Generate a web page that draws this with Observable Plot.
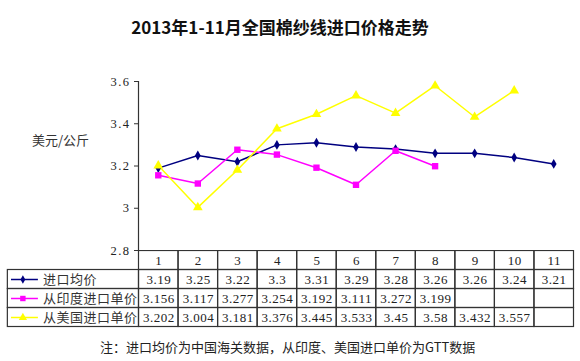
<!DOCTYPE html>
<html><head><meta charset="utf-8">
<script src="https://cdn.jsdelivr.net/npm/d3@7"></script>
<script src="https://cdn.jsdelivr.net/npm/@observablehq/plot@0.6"></script>
<style>
body{margin:0;background:#fff;}
#wrap{position:relative;width:580px;height:361px;overflow:hidden;font-family:"Noto Sans CJK SC",sans-serif;color:#222;}
#title{position:absolute;left:0;width:560px;top:15px;line-height:24px;text-align:center;font-size:17px;font-weight:bold;color:#111;}
#ylabel{position:absolute;left:32px;top:130px;line-height:20px;font-size:13px;color:#333;}
#note{position:absolute;left:100px;top:337px;line-height:20px;font-size:13px;color:#222;}
#chart{position:absolute;left:0;top:50px;}
#table{position:absolute;left:0;top:250px;}
svg{display:block;}
</style>
</head><body>
<div id="wrap">
  <div id="title">2013年1-11月全国棉纱线进口价格走势</div>
  <div id="ylabel">美元/公斤</div>
  <div id="chart"></div>
  <div id="table"></div>
  <div id="note">注：进口均价为中国海关数据，从印度、美国进口单价为GTT数据</div>
</div>
<script>
// ---- data ----
const months = [1, 2, 3, 4, 5, 6, 7, 8, 9, 10, 11];
const avgPrice = [3.19, 3.25, 3.22, 3.3, 3.31, 3.29, 3.28, 3.26, 3.26, 3.24, 3.21];
const indiaPrice = [3.156, 3.117, 3.277, 3.254, 3.192, 3.111, 3.272, 3.199];
const usaPrice = [3.202, 3.004, 3.181, 3.376, 3.445, 3.533, 3.45, 3.58, 3.432, 3.557];
const seriesNames = ["进口均价", "从印度进口单价", "从美国进口单价"];
const seriesColors = ["#000080", "#FF00FF", "#FFFF00"];
const seriesSymbols = ["diamond", "square", "triangle"];
const yTicks = [2.8, 3, 3.2, 3.4, 3.6];

// ---- derived tables ----
const seriesValues = [avgPrice, indiaPrice, usaPrice];
const points = seriesValues.flatMap((vals, i) =>
  vals.map((v, j) => ({month: months[j], value: v, series: seriesNames[i]})));

const symbolSize = {"进口均价": 3, "从印度进口单价": 3.6, "从美国进口单价": 3.6};

const colorOpt = {domain: seriesNames, range: seriesColors};
const symbolOpt = {domain: seriesNames, range: seriesSymbols};

const chart = Plot.plot({
  width: 580, height: 201,
  marginTop: 31, marginBottom: 1, marginLeft: 138, marginRight: 7,
  x: {domain: [0.5, 11.5], axis: null},
  y: {domain: [2.8, 3.6], axis: null},
  color: colorOpt,
  symbol: symbolOpt,
  style: {fontFamily: "Liberation Serif", fontSize: "12.5px", letterSpacing: "1.5px", background: "transparent", overflow: "visible", color: "#222"},
  marks: [
    Plot.axisY({ticks: yTicks, tickSize: 4, tickPadding: 4, stroke: "#333", label: null,
      tickFormat: d => String(+d.toFixed(1))}),
    Plot.ruleX([0.5], {stroke: "#333", strokeWidth: 1.2}),
    Plot.line(points, {x: "month", y: "value", z: "series", stroke: "series", strokeWidth: 1.5}),
    ...seriesNames.map(name => Plot.dot(points.filter(p => p.series === name),
      {x: "month", y: "value", symbol: "series", fill: "series", r: symbolSize[name]}))
  ]
});
document.getElementById("chart").append(chart);

// ---- table ----
const LABEL_LEFT = 0.5 - 131 / 39.5; // label column left edge in column units
const rowOf = {"进口均价": 1, "从印度进口单价": 2, "从美国进口单价": 3};
const cells = [];
for (let r = 0; r < 4; r++) {
  for (const m of months) cells.push({x1: m - 0.5, x2: m + 0.5, y1: r, y2: r + 1});
  if (r > 0) cells.push({x1: LABEL_LEFT, x2: 0.5, y1: r, y2: r + 1});
}
const valueCells = points.map(p => ({month: p.month, yc: rowOf[p.series] + 0.5, label: String(p.value)}));
const legendRows = seriesNames.map(name => ({series: name, yc: rowOf[name] + 0.5}));

const table = Plot.plot({
  width: 580, height: 78, margin: 0,
  x: {domain: [0.5, 11.5], range: [138.5, 573.5], axis: null},
  y: {domain: [0, 4], range: [0.5, 76.5], axis: null},
  color: colorOpt,
  symbol: symbolOpt,
  style: {fontFamily: "Liberation Serif", fontSize: "13px", letterSpacing: "0.5px", background: "transparent", color: "#222"},
  marks: [
    Plot.rect(cells, {x1: "x1", x2: "x2", y1: "y1", y2: "y2", stroke: "#333", strokeWidth: 1.2, fill: "none"}),
    Plot.text(months, {x: d => d, y: () => 0.5, text: d => String(d), fill: "#222"}),
    Plot.text(valueCells, {x: "month", y: "yc", text: "label", fill: "#222"}),
    Plot.link(legendRows, {x1: () => LABEL_LEFT + 0.08, x2: () => LABEL_LEFT + 0.76, y1: "yc", y2: "yc", stroke: "series", strokeWidth: 1.5}),
    ...seriesNames.map(name => Plot.dot(legendRows.filter(d => d.series === name),
      {x: () => LABEL_LEFT + 0.38, y: "yc", symbol: "series", fill: "series", r: symbolSize[name] * 0.85})),
    Plot.text(legendRows, {x: () => LABEL_LEFT + 0.89, y: "yc", text: "series", textAnchor: "start",
      fontFamily: "Noto Sans CJK SC", fontSize: 13, fill: "#333"})
  ]
});
document.getElementById("table").append(table);
</script>
</body></html>
